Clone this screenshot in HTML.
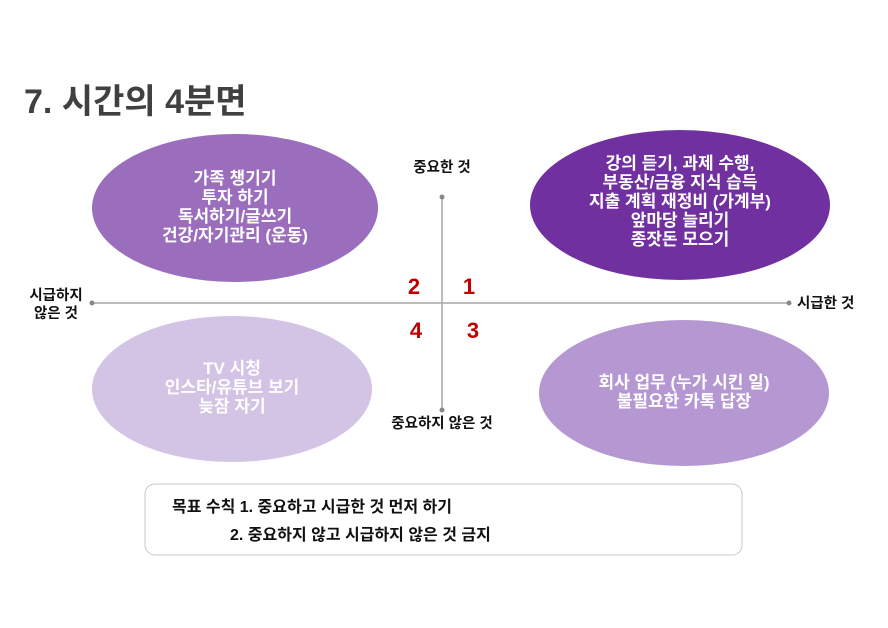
<!DOCTYPE html>
<html><head><meta charset="utf-8"><style>
html,body{margin:0;padding:0;background:#fff;}
svg{display:block;}
text{font-family:"Liberation Sans","Noto Sans CJK KR",sans-serif;font-weight:bold;}
</style></head><body>
<svg width="888" height="628" viewBox="0 0 888 628" xmlns="http://www.w3.org/2000/svg">
<text x="24" y="113" font-size="34" fill="#404040">7. 시간의 4분면</text>

<ellipse cx="235" cy="208" rx="143" ry="74" fill="#9b6dbd"/>
<ellipse cx="680" cy="205" rx="150" ry="75" fill="#7030a0"/>
<ellipse cx="232" cy="389" rx="140" ry="73" fill="#d3c3e5"/>
<ellipse cx="684" cy="393" rx="145" ry="73" fill="#b598d1"/>

<g font-size="17" fill="#fff" text-anchor="middle">
<text x="235" y="184">가족 챙기기</text>
<text x="235" y="203">투자 하기</text>
<text x="235" y="222">독서하기/글쓰기</text>
<text x="235" y="241">건강/자기관리 (운동)</text>
<text x="680" y="169">강의 듣기, 과제 수행,</text>
<text x="680" y="188">부동산/금융 지식 습득</text>
<text x="680" y="207">지출 계획 재정비 (가계부)</text>
<text x="680" y="226">앞마당 늘리기</text>
<text x="680" y="245">종잣돈 모으기</text>
<text x="232" y="374">TV 시청</text>
<text x="232" y="393">인스타/유튜브 보기</text>
<text x="232" y="412">늦잠 자기</text>
<text x="684" y="388">회사 업무 (누가 시킨 일)</text>
<text x="684" y="407">불필요한 카톡 답장</text>
</g>

<line x1="92" y1="303" x2="789" y2="303" stroke="#a6a6a6" stroke-width="1.5"/>
<line x1="442" y1="197" x2="442" y2="410" stroke="#a6a6a6" stroke-width="1.5"/>
<circle cx="92" cy="303" r="2.5" fill="#888"/>
<circle cx="789" cy="303" r="2.5" fill="#888"/>
<circle cx="442" cy="197" r="2.5" fill="#888"/>
<circle cx="442" cy="410" r="2.5" fill="#888"/>

<g font-size="14.5" fill="#111">
<text x="442" y="172" text-anchor="middle">중요한 것</text>
<text x="442" y="428" text-anchor="middle">중요하지 않은 것</text>
<text x="797" y="308">시급한 것</text>
<text x="56" y="300" text-anchor="middle">시급하지</text>
<text x="56" y="318" text-anchor="middle">않은 것</text>
</g>

<g font-size="22" fill="#c00000" text-anchor="middle">
<text x="414" y="294">2</text>
<text x="469" y="294">1</text>
<text x="416" y="338">4</text>
<text x="473" y="338">3</text>
</g>

<rect x="145" y="484" width="597" height="71" rx="10" fill="#fff" stroke="#c8c8c8" stroke-width="1"/>
<g font-size="16" fill="#111">
<text x="172" y="512">목표 수칙  1. 중요하고 시급한 것 먼저 하기</text>
<text x="230" y="540">2. 중요하지 않고 시급하지 않은 것 금지</text>
</g>
</svg>
</body></html>
